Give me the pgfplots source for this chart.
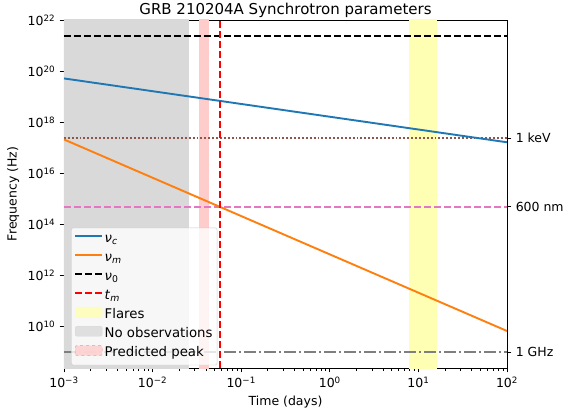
\documentclass[border=0pt]{standalone}
\usepackage{fontspec}
\setmainfont{DejaVu Sans}
\usepackage{pgfplots}
\pgfplotsset{compat=1.18}
\usetikzlibrary{calc}
\definecolor{tabblue}{HTML}{1F77B4}
\definecolor{taborange}{HTML}{FF7F0E}
\definecolor{tabbrown}{HTML}{8C564B}
\definecolor{tabpink}{HTML}{E377C2}
\definecolor{tabgray}{HTML}{7F7F7F}
\definecolor{spangray}{HTML}{D9D9D9}
\definecolor{spanyellow}{HTML}{FFFFB3}
\definecolor{spanpink}{HTML}{FFCCCC}
\newcommand{\sq}[1]{10\textsuperscript{#1}}
\begin{document}
\fontsize{12.5}{15}\selectfont
\begin{tikzpicture}
\pgfplotsset{
  every axis/.style={scale only axis, width=443pt, height=348pt,
    xmode=log, ymode=log, xmin=1e-3, xmax=1e2, ymin=2.4e8, ymax=1.02e22,
    tick align=outside, major tick length=4.4pt, minor tick length=2.5pt,
    tick style={black, line width=0.8pt}, axis line style={line width=0.8pt},
    tick label style={font=\fontsize{12.5}{15}\selectfont}},
}
\begin{axis}[
  title={GRB 210204A Synchrotron parameters},
  title style={font=\fontsize{15}{18}\selectfont, yshift=-8pt},
  xlabel={Time (days)}, ylabel={Frequency (Hz)},
  label style={font=\fontsize{12.5}{15}\selectfont},
  xtick={1e-3,1e-2,1e-1,1,10,100},
  xticklabels={\sq{−3},\sq{−2},\sq{−1},\sq{0},\sq{1},\sq{2}},
  ytick={1e10,1e12,1e14,1e16,1e18,1e20,1e22},
  yticklabels={\sq{10},\sq{12},\sq{14},\sq{16},\sq{18},\sq{20},\sq{22}},
  yminorticks=false,
  xtick pos=bottom, ytick pos=left,
  legend cell align=left,
  legend style={at={(0.016,0.008)}, anchor=south west, fill=white, fill opacity=0.8,
    text opacity=1, draw=black!20, draw opacity=1, rounded corners=2pt,
    font=\fontsize{13.3}{16}\selectfont, row sep=2.4pt, inner sep=3pt,
    nodes={inner sep=1.5pt, text height=10pt, text depth=3.6pt}},
  legend image code/.code={\draw[#1, line width=1.9pt] (0pt,3.2pt) -- (27pt,3.2pt);},
  clip=true,
]
\coordinate (sw) at (rel axis cs:0,0);
\coordinate (ne) at (rel axis cs:1,1);
% shaded spans
\addplot[fill=spangray, draw=none, forget plot] coordinates {(1e-4,1e8) (0.0259,1e8) (0.0259,1e23) (1e-4,1e23)} -- cycle;
\addplot[fill=spanpink, draw=none, forget plot] coordinates {(0.0335,1e8) (0.0432,1e8) (0.0432,1e23) (0.0335,1e23)} -- cycle;
\addplot[fill=spanyellow, draw=none, forget plot] coordinates {(7.9,1e8) (16.3,1e8) (16.3,1e23) (7.9,1e23)} -- cycle;
% reference levels
\addplot[tabbrown, line width=1.9pt, dotted, forget plot] coordinates {(1e-3,2.418e17) (1e2,2.418e17)};
\addplot[tabpink, line width=1.9pt, dash pattern=on 7pt off 3pt, forget plot] coordinates {(1e-3,5e14) (1e2,5e14)};
\addplot[tabgray, line width=1.9pt, dash pattern=on 12pt off 3pt on 2pt off 3pt, forget plot] coordinates {(1e-3,1e9) (1e2,1e9)};
% nu_c, nu_m
\addplot[tabblue, line width=1.9pt] coordinates {(1e-3,5.25e19) (1e2,1.66e17)};
\addlegendentry{\textit{ν}\textsubscript{\textit{c}}}
\addplot[taborange, line width=1.9pt] coordinates {(1e-3,2.14e17) (1e2,6.76e9)};
\addlegendentry{\textit{ν}\textsubscript{\textit{m}}}
\addplot[black, line width=1.9pt, dash pattern=on 7pt off 3pt] coordinates {(1e-3,2.45e21) (1e2,2.45e21)};
\addlegendentry{\textit{ν}\textsubscript{0}}
\addplot[red, line width=1.9pt, dash pattern=on 7pt off 3pt] coordinates {(0.057,1e8) (0.057,1e23)};
\addlegendentry{\textit{t}\textsubscript{\textit{m}}}
\addlegendimage{legend image code/.code={\fill[spanyellow] (0pt,-1.8pt) rectangle (27pt,8.2pt);}}
\addlegendentry{Flares}
\addlegendimage{legend image code/.code={\fill[spangray] (0pt,-1.8pt) rectangle (27pt,8.2pt);}}
\addlegendentry{No observations}
\addlegendimage{legend image code/.code={\draw[fill=spanpink, draw=spanpink!85!red, dashed, line width=0.8pt, rounded corners=2pt] (0pt,-1.8pt) rectangle (27pt,8.2pt);}}
\addlegendentry{Predicted peak}
\end{axis}
\begin{axis}[
  axis x line=none, axis y line*=right,
  ytick={1e9,5e14,2.418e17}, yticklabels={1 GHz,600 nm,1 keV},
  yminorticks=false,
]
\addplot[draw=none] coordinates {(1,1e10)};
\end{axis}
\pgfresetboundingbox
\path ($(sw)+(-64pt,-50pt)$) rectangle ($(ne)+(59pt,20pt)$);
\end{tikzpicture}
\end{document}
